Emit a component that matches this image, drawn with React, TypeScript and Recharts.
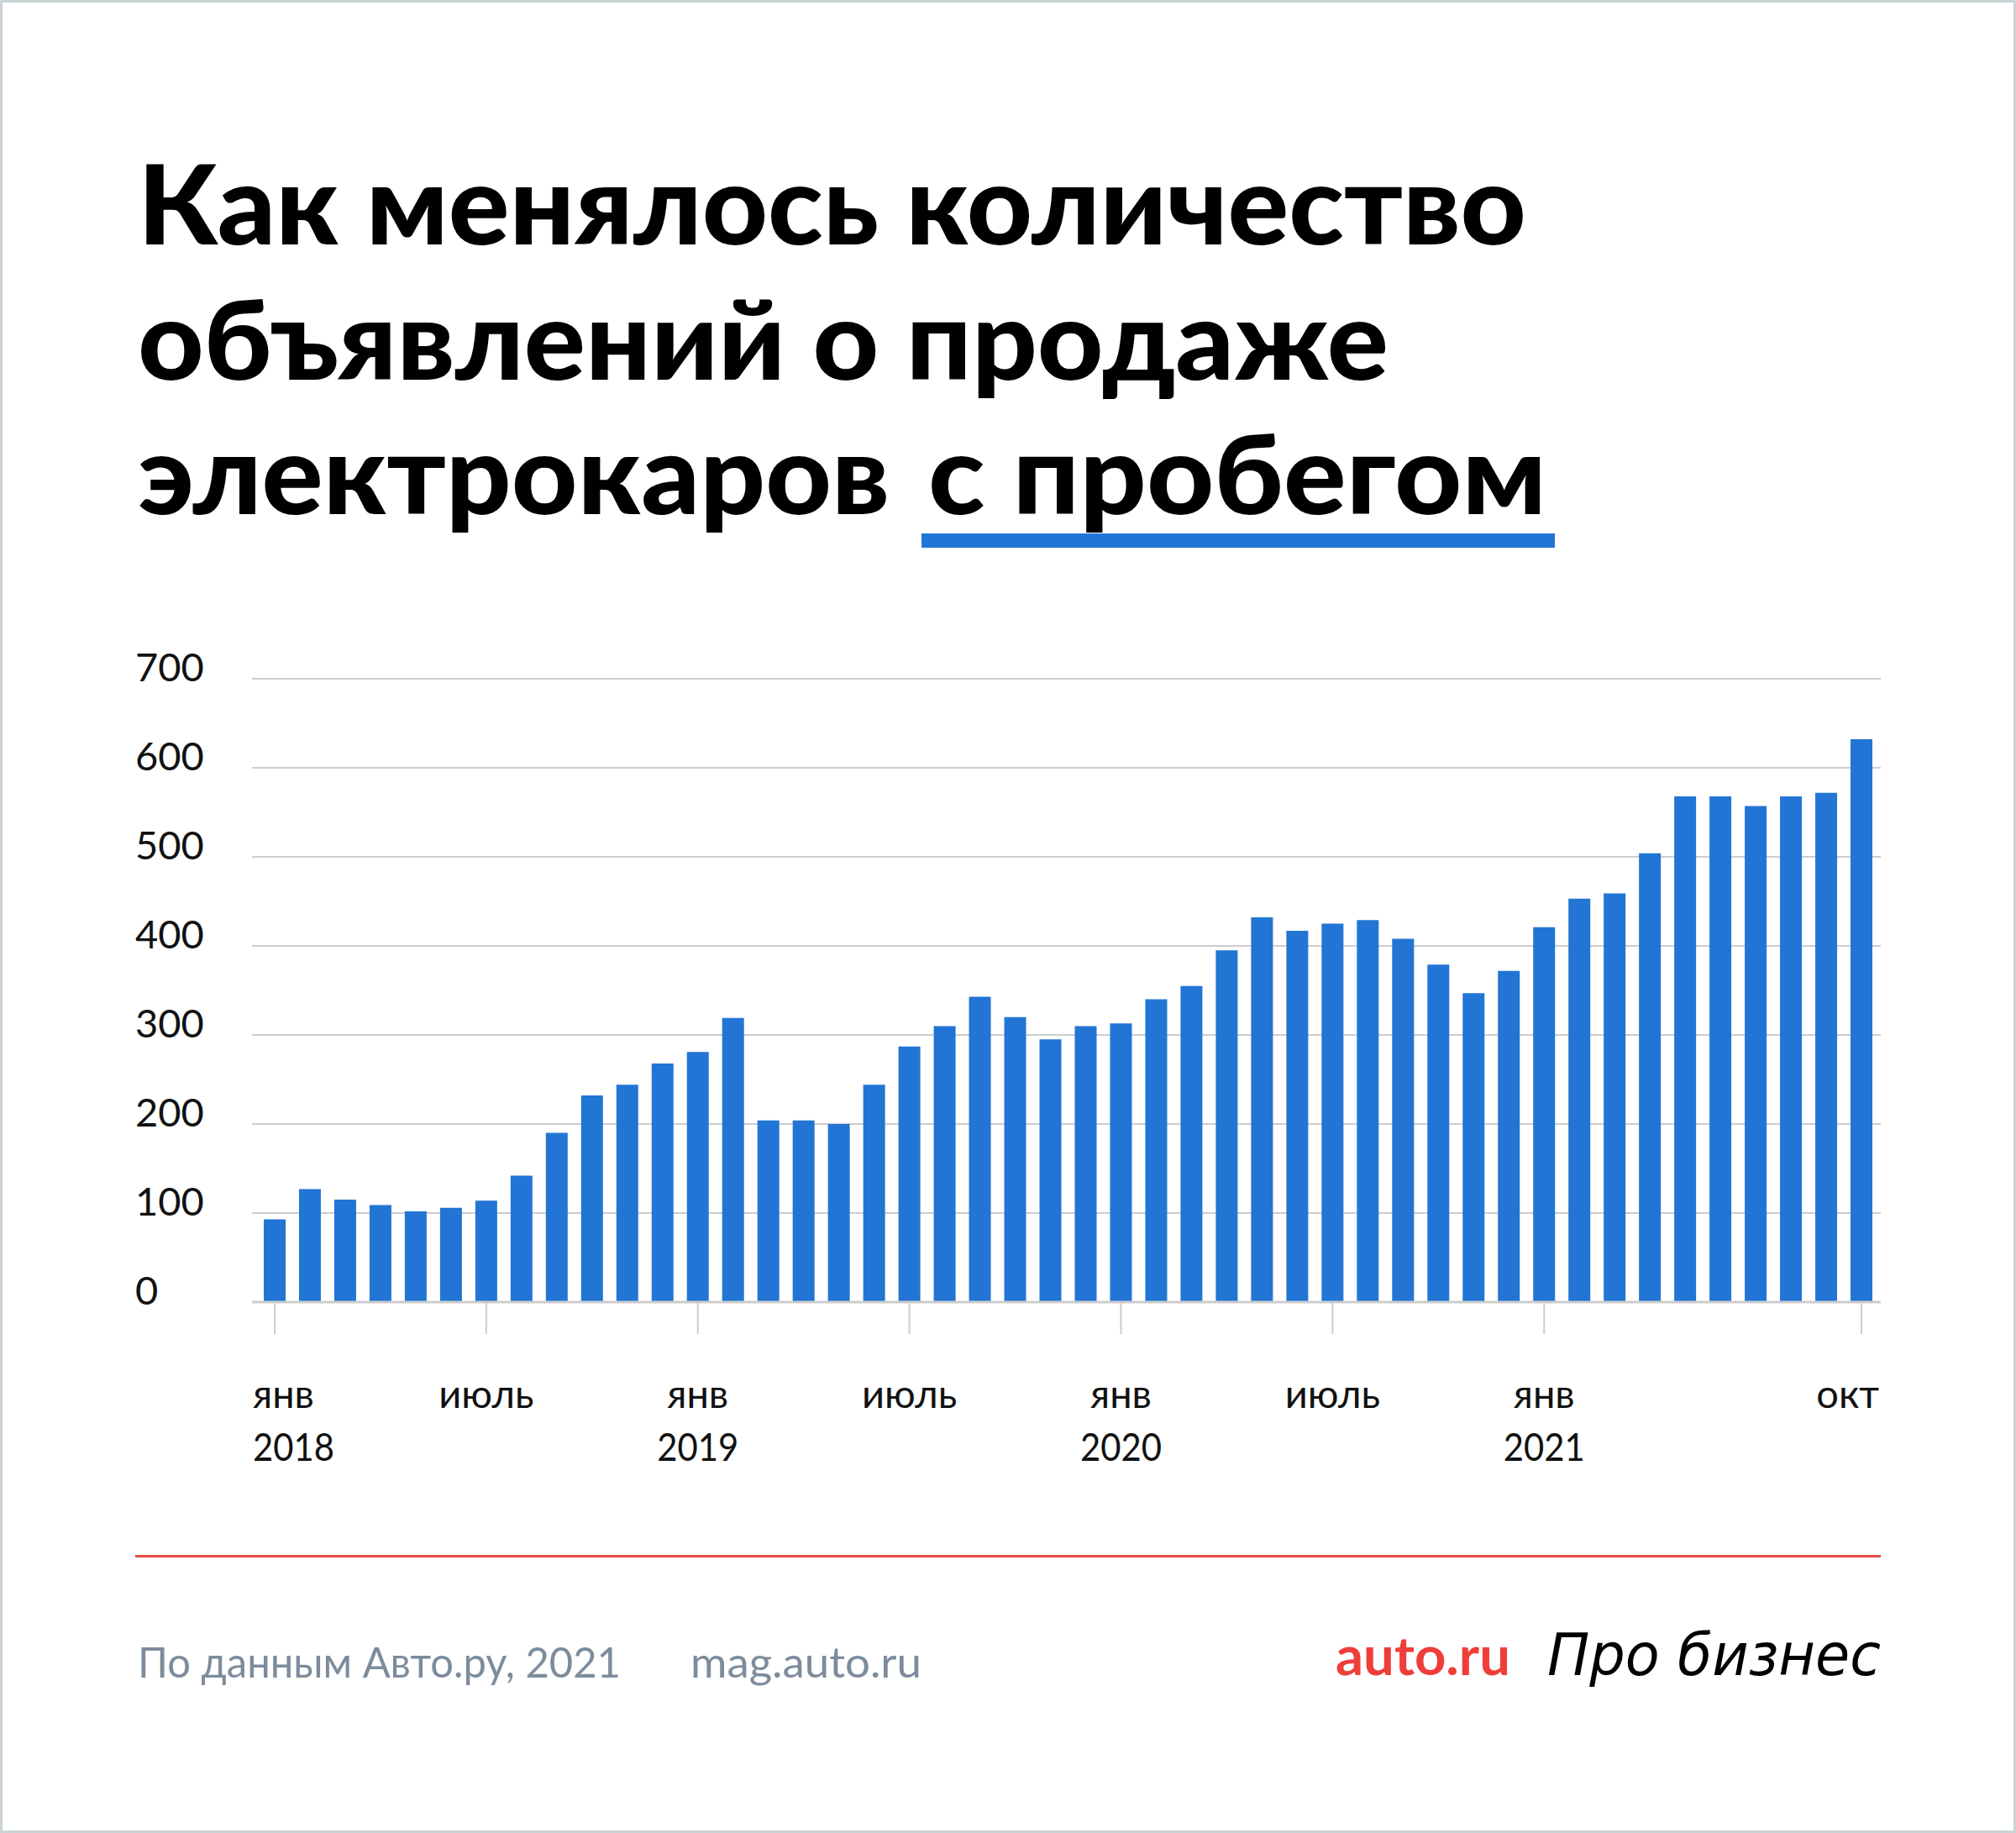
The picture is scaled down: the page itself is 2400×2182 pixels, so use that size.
import React from 'react';
import { BarChart, Bar, XAxis, YAxis, CartesianGrid } from 'recharts';

// months Jan 2018 – Oct 2021
const MONTHS = [
  '2018-01', '2018-02', '2018-03', '2018-04', '2018-05', '2018-06',
  '2018-07', '2018-08', '2018-09', '2018-10', '2018-11', '2018-12',
  '2019-01', '2019-02', '2019-03', '2019-04', '2019-05', '2019-06',
  '2019-07', '2019-08', '2019-09', '2019-10', '2019-11', '2019-12',
  '2020-01', '2020-02', '2020-03', '2020-04', '2020-05', '2020-06',
  '2020-07', '2020-08', '2020-09', '2020-10', '2020-11', '2020-12',
  '2021-01', '2021-02', '2021-03', '2021-04', '2021-05', '2021-06',
  '2021-07', '2021-08', '2021-09', '2021-10',
];

const LISTINGS = [
  93, 127, 115, 109, 102, 106, 114, 142, 190, 232, 244, 268,
  281, 319, 204, 204, 200, 244, 287, 310, 343, 320, 295, 310,
  313, 340, 355, 395, 432, 417, 425, 429, 408, 379, 347, 372,
  421, 453, 459, 504, 568, 568, 557, 568, 572, 632,
];

const TICK_KEYS = ['2018-01', '2018-07', '2019-01', '2019-07', '2020-01', '2020-07', '2021-01', '2021-10'];
const TICK_MONTHS = ['янв', 'июль', 'янв', 'июль', 'янв', 'июль', 'янв', 'окт'];
const TICK_YEARS = ['2018', '', '2019', '', '2020', '', '2021', ''];

const Y_TICKS = [0, 100, 200, 300, 400, 500, 600, 700];

const BLUE = '#2275d4';
const GRID = '#cdcdcd';
const FONT = 'Lato, "Noto Sans", sans-serif';

const data = MONTHS.map((m, i) => ({ month: m, value: LISTINGS[i] }));

const MonthTick = (props: any) => {
  const { x, y, payload } = props;
  const idx = TICK_KEYS.indexOf(payload.value);
  const last = idx === TICK_KEYS.length - 1;
  let anchor = 'middle';
  let dx = 0;
  if (idx === 0) { anchor = 'start'; dx = -26; }
  if (last) { anchor = 'end'; dx = 21; }
  return (
    <g>
      <text x={x + dx} y={y + 88} textAnchor={anchor} fontSize={47} fill="#111" fontFamily={FONT}>
        {TICK_MONTHS[idx]}
      </text>
      {TICK_YEARS[idx] && (
        <text x={x + dx} y={y + 151} textAnchor={anchor} fontSize={46} fill="#111" fontFamily={FONT} textLength={97} lengthAdjust="spacingAndGlyphs">
          {TICK_YEARS[idx]}
        </text>
      )}
    </g>
  );
};

const ValueTick = (props: any) => {
  const { y, payload } = props;
  return (
    <text x={161} y={y + 3} textAnchor="start" fontSize={47} fill="#111" fontFamily={FONT}>
      {payload.value}
    </text>
  );
};

const App: React.FC = () => {
  return (
    <div
      style={{
        position: 'absolute', left: 0, top: 0, width: 2400, height: 2182,
        background: '#fff', border: '3px solid #c9d3d6', boxSizing: 'border-box',
      }}
    >
      <svg width={2400} height={2182} style={{ position: 'absolute', left: -3, top: -3 }}>
        <g fontFamily={FONT} fontWeight={900} fontSize={132} fill="#000">
          <text x={164} y={291} textLength={1653} lengthAdjust="spacingAndGlyphs">Как менялось количество</text>
          <text x={164} y={452} textLength={1489} lengthAdjust="spacingAndGlyphs">объявлений о продаже</text>
          <text x={164} y={612} textLength={895} lengthAdjust="spacingAndGlyphs">электрокаров</text>
          <text x={1105} y={612} textLength={736} lengthAdjust="spacingAndGlyphs">с пробегом</text>
        </g>
        <rect x={1097} y={635} width={754} height={17} fill={BLUE} />
        <rect x={161} y={1851} width={2078} height={3} fill="#ea4b47" />
        <text x={164} y={1997} fontSize={51} fill="#7d8c9c" fontFamily={FONT} textLength={575} lengthAdjust="spacingAndGlyphs">
          По данным Авто.ру, 2021
        </text>
        <text x={822} y={1997} fontSize={51} fill="#7d8c9c" fontFamily={FONT} textLength={275} lengthAdjust="spacingAndGlyphs">
          mag.auto.ru
        </text>
        <text x={1590} y={1994} fontSize={64} fontWeight={700} fill="#ef3e3a" fontFamily={FONT} textLength={208} lengthAdjust="spacingAndGlyphs">
          auto.ru
        </text>
        <text x={1842} y={1994} fontSize={70} fontStyle="italic" fill="#000" fontFamily='"DejaVu Sans", sans-serif' textLength={397} lengthAdjust="spacingAndGlyphs">
          Про бизнес
        </text>
      </svg>
      <div style={{ position: 'absolute', left: -3, top: 697, width: 2400, height: 1100 }}>
        <BarChart
          width={2400}
          height={1100}
          data={data}
          margin={{ top: 108, right: 161, left: 160, bottom: 0 }}
          barCategoryGap={16}
        >
          <CartesianGrid vertical={false} stroke={GRID} strokeWidth={2} />
          <XAxis
            dataKey="month"
            ticks={TICK_KEYS}
            interval={0}
            height={250}
            padding={{ left: 6, right: 2 }}
            axisLine={{ stroke: GRID, strokeWidth: 3 }}
            tickLine={{ stroke: GRID, strokeWidth: 2 }}
            tickSize={38}
            tickMargin={0}
            tick={<MonthTick />}
          />
          <YAxis
            width={140}
            domain={[0, 700]}
            ticks={Y_TICKS}
            axisLine={false}
            tickLine={false}
            tick={<ValueTick />}
          />
          <Bar dataKey="value" fill={BLUE} barSize={26} isAnimationActive={false} />
        </BarChart>
      </div>
    </div>
  );
};

export default App;
